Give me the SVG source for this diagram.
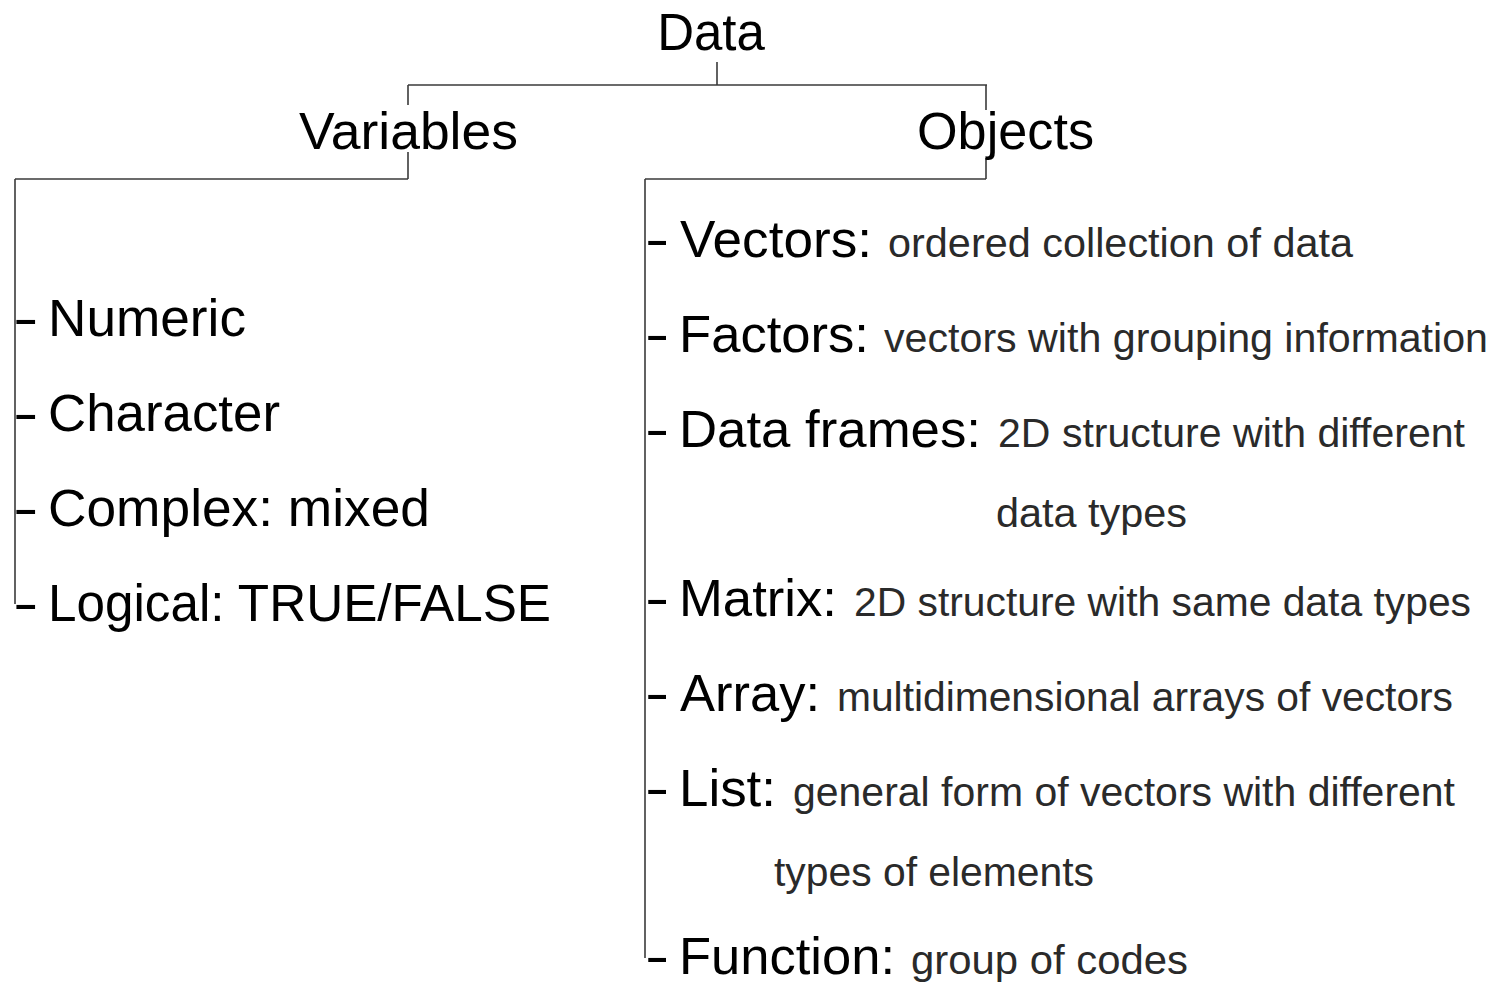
<svg xmlns="http://www.w3.org/2000/svg" width="1497" height="983" viewBox="0 0 1497 983">
<style>
.t{font-family:"Liberation Sans",Arial,sans-serif;fill:#000}
.h{font-size:51px}
.r{font-size:52px}
.d{font-size:41px;fill:#2a2a2a}
.ln{stroke:#3a3a3a;stroke-width:1.6;fill:none}
</style>
<rect width="1497" height="983" fill="#fff"/>
<g id="connectors">
<line class="ln" x1="717" y1="62" x2="717" y2="85"/>
<line class="ln" x1="408" y1="85" x2="987" y2="85"/>
<line class="ln" x1="408" y1="85" x2="408" y2="105"/>
<line class="ln" x1="408" y1="152" x2="408" y2="179"/>
<line class="ln" x1="986" y1="85" x2="986" y2="110"/>
<line class="ln" x1="986" y1="158" x2="986" y2="179"/>
<line class="ln" x1="15" y1="179" x2="408" y2="179"/>
<line class="ln" x1="15" y1="179" x2="15" y2="604"/>
<line class="ln" x1="645" y1="179" x2="986" y2="179"/>
<line class="ln" x1="645" y1="179" x2="645" y2="958"/>
</g>
<g id="node-data"><text class="t h" x="711" y="50" text-anchor="middle">Data</text></g>
<g id="node-variables"><text class="t" x="299" y="149" style="font-size:52px" textLength="219" lengthAdjust="spacingAndGlyphs">Variables</text></g>
<g id="node-objects"><text class="t h" x="917" y="149" textLength="177" lengthAdjust="spacingAndGlyphs">Objects</text></g>
<g id="node-numeric"><text class="t h" transform="translate(13,336) scale(1.5,1)">-</text><text class="t h" x="48" y="336" textLength="198" lengthAdjust="spacingAndGlyphs">Numeric</text></g>
<g id="node-character"><text class="t h" transform="translate(13,431) scale(1.5,1)">-</text><text class="t h" x="48" y="431" textLength="232" lengthAdjust="spacingAndGlyphs">Character</text></g>
<g id="node-complex"><text class="t h" transform="translate(13,526) scale(1.5,1)">-</text><text class="t h" x="48" y="526" textLength="382" lengthAdjust="spacingAndGlyphs">Complex: mixed</text></g>
<g id="node-logical"><text class="t h" transform="translate(13,621) scale(1.5,1)">-</text><text class="t h" x="48" y="621" textLength="503" lengthAdjust="spacingAndGlyphs">Logical: TRUE/FALSE</text></g>
<g id="node-vectors">
<text class="t r" transform="translate(645,257) scale(1.4,1)">-</text>
<text class="t r" x="680" y="257" textLength="192" lengthAdjust="spacingAndGlyphs">Vectors:</text>
<text class="t d" x="888" y="257" textLength="465" lengthAdjust="spacingAndGlyphs">ordered collection of data</text>
</g>
<g id="node-factors">
<text class="t r" transform="translate(645,352) scale(1.4,1)">-</text>
<text class="t r" x="679" y="352" textLength="190" lengthAdjust="spacingAndGlyphs">Factors:</text>
<text class="t d" x="884" y="352" textLength="604" lengthAdjust="spacingAndGlyphs">vectors with grouping information</text>
</g>
<g id="node-dataframes">
<text class="t r" transform="translate(645,447) scale(1.4,1)">-</text>
<text class="t r" x="679" y="447" textLength="302" lengthAdjust="spacingAndGlyphs">Data frames:</text>
<text class="t d" x="998" y="447" textLength="467" lengthAdjust="spacingAndGlyphs">2D structure with different</text>
<text class="t d" x="996" y="527" textLength="191" lengthAdjust="spacingAndGlyphs">data types</text>
</g>
<g id="node-matrix">
<text class="t r" transform="translate(645,616) scale(1.4,1)">-</text>
<text class="t r" x="679" y="616" textLength="158" lengthAdjust="spacingAndGlyphs">Matrix:</text>
<text class="t d" x="854" y="616" textLength="617" lengthAdjust="spacingAndGlyphs">2D structure with same data types</text>
</g>
<g id="node-array">
<text class="t r" transform="translate(645,711) scale(1.4,1)">-</text>
<text class="t r" x="680" y="711" textLength="140" lengthAdjust="spacingAndGlyphs">Array:</text>
<text class="t d" x="837" y="711" textLength="616" lengthAdjust="spacingAndGlyphs">multidimensional arrays of vectors</text>
</g>
<g id="node-list">
<text class="t r" transform="translate(645,806) scale(1.4,1)">-</text>
<text class="t r" x="679" y="806" textLength="97" lengthAdjust="spacingAndGlyphs">List:</text>
<text class="t d" x="793" y="806" textLength="662" lengthAdjust="spacingAndGlyphs">general form of vectors with different</text>
<text class="t d" x="774" y="886" textLength="320" lengthAdjust="spacingAndGlyphs">types of elements</text>
</g>
<g id="node-function">
<text class="t r" transform="translate(645,974) scale(1.4,1)">-</text>
<text class="t r" x="679" y="974" textLength="216" lengthAdjust="spacingAndGlyphs">Function:</text>
<text class="t d" x="911" y="974" textLength="277" lengthAdjust="spacingAndGlyphs">group of codes</text>
</g>
</svg>
